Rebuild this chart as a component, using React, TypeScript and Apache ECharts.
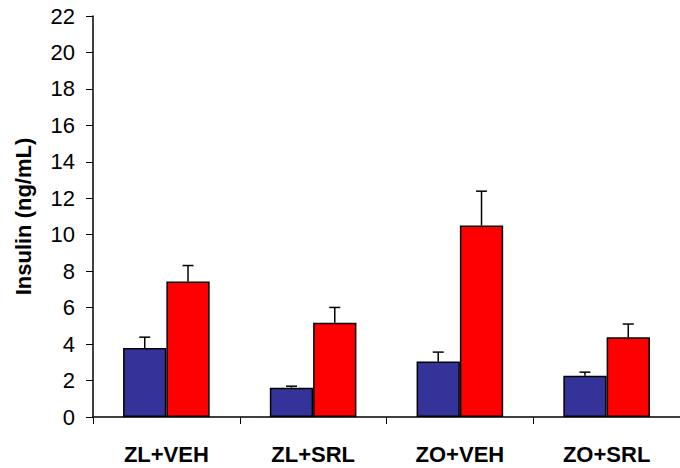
import React, { useEffect, useRef } from "react";
import * as echarts from "echarts";

const categories = ["ZL+VEH", "ZL+SRL", "ZO+VEH", "ZO+SRL"];
const blueValues = [3.78, 1.61, 3.04, 2.26];
const blueErrors = [0.6, 0.08, 0.52, 0.2];
const redValues = [7.44, 5.17, 10.51, 4.38];
const redErrors = [0.87, 0.84, 1.88, 0.72];
const yTicks = { min: 0, max: 22, interval: 2 };

const GAP = 0.41;

function errorSeries(values: number[], errors: number[], side: number) {
  return {
    type: "custom",
    silent: true,
    z: 1,
    data: values.map((v, i) => [i, v, v + errors[i]]),
    renderItem: (params: any, api: any) => {
      const idx = api.value(0);
      const band = api.size([1, 0])[0];
      const bw = (band * (1 - GAP)) / 2;
      const base = api.coord([idx, api.value(1)]);
      const top = api.coord([idx, api.value(2)]);
      const x = base[0] + (side * bw) / 2;
      const cap = 5.5;
      return {
        type: "group",
        children: [
          {
            type: "line",
            shape: { x1: x, y1: base[1], x2: x, y2: top[1] },
            style: { stroke: "#000", lineWidth: 1.5 },
          },
          {
            type: "line",
            shape: { x1: x - cap, y1: top[1], x2: x + cap, y2: top[1] },
            style: { stroke: "#000", lineWidth: 1.5 },
          },
        ],
      };
    },
  };
}

export default function App() {
  const ref = useRef<HTMLDivElement>(null);
  useEffect(() => {
    if (!ref.current) return;
    const chart = echarts.init(ref.current, null, { renderer: "svg" });
    chart.setOption({
      animation: false,
      backgroundColor: "#fff",
      grid: { left: 93, top: 16, bottom: 51, right: -2, containLabel: false },
      xAxis: {
        type: "category",
        data: categories,
        axisLine: { lineStyle: { color: "#000", width: 1.5 } },
        axisTick: { show: true, length: 7, lineStyle: { color: "#000", width: 1 } },
        axisLabel: {
          color: "#000",
          fontFamily: "'Liberation Sans', Arial, sans-serif",
          fontWeight: "bold",
          fontSize: 22,
          margin: 26,
        },
      },
      yAxis: {
        type: "value",
        min: yTicks.min,
        max: yTicks.max,
        interval: yTicks.interval,
        name: "Insulin (ng/mL)",
        nameLocation: "middle",
        nameGap: 59,
        nameTextStyle: {
          color: "#000",
          fontFamily: "'Liberation Sans', Arial, sans-serif",
          fontWeight: "bold",
          fontSize: 22,
        },
        axisLine: { show: true, lineStyle: { color: "#000", width: 1.5 } },
        axisTick: { show: true, length: 7, lineStyle: { color: "#000", width: 1 } },
        splitLine: { show: false },
        axisLabel: {
          color: "#000",
          fontFamily: "'Liberation Sans', Arial, sans-serif",
          fontSize: 22,
          margin: 18,
        },
      },
      series: [
        {
          type: "bar",
          data: blueValues,
          barGap: "0%",
          barCategoryGap: "41%",
          itemStyle: { color: "#333399", borderColor: "#000", borderWidth: 1.5 },
          z: 2,
        },
        {
          type: "bar",
          data: redValues,
          barGap: "0%",
          barCategoryGap: "41%",
          itemStyle: { color: "#FF0000", borderColor: "#000", borderWidth: 1.5 },
          z: 2,
        },
        errorSeries(blueValues, blueErrors, -1),
        errorSeries(redValues, redErrors, 1),
      ],
    });
    return () => chart.dispose();
  }, []);
  return (
    <div
      ref={ref}
      style={{ position: "absolute", left: 0, top: 0, width: 680, height: 468 }}
    />
  );
}
